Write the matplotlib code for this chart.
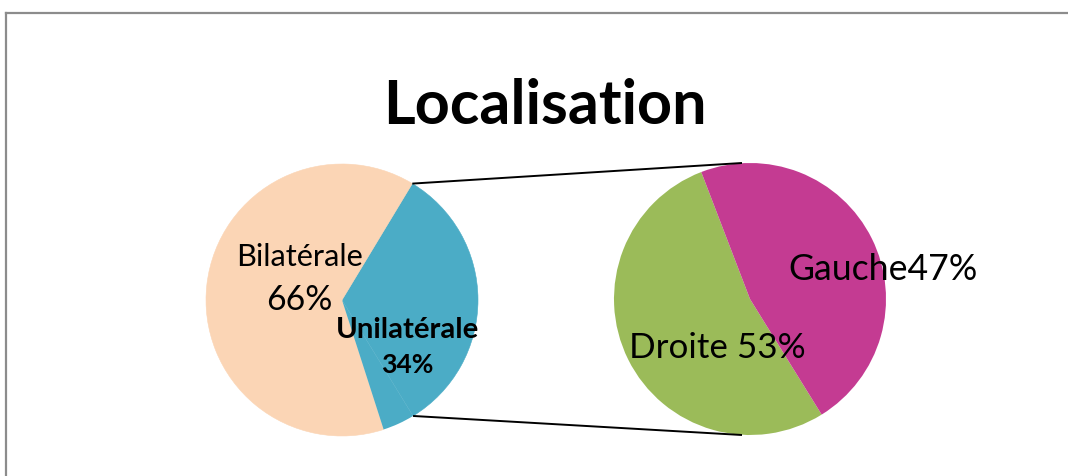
import numpy as np
import matplotlib
matplotlib.use("Agg")
import matplotlib.pyplot as plt
from matplotlib.lines import Line2D

# ---- data ----
title = "Localisation"
left_labels = ["Unilatérale", "Bilatérale", "Unilatérale (reste)"]
left_values = [32.6, 63.6, 3.8]
right_labels = ["Droite", "Gauche"]
right_values = [53, 47]
label_bilat = ["Bilatérale", "66%"]
label_uni = ["Unilatérale", "34%"]
label_gauche = "Gauche47%"
label_droite = "Droite 53%"

W, H = 1068, 477
fig = plt.figure(figsize=(W / 100, H / 100), dpi=100)
ax = fig.add_axes([0, 0, 1, 1])

def Y(py):
    return H - py

c_peach = "#FBD5B5"
c_teal = "#4BACC6"
c_green = "#9BBB59"
c_mag = "#C43B92"

# left pie
lc = (342, Y(301)); r = 136
wl, _ = ax.pie(left_values, colors=[c_teal, c_peach, c_teal], startangle=-58.5,
               counterclock=True, center=lc, radius=r,
               wedgeprops=dict(linewidth=0.4, edgecolor=c_teal))
wl[1].set_edgecolor(c_peach)
wl[2].set_edgecolor("none")
# right pie
rc = (750, Y(300))
wr, _ = ax.pie(right_values, colors=[c_green, c_mag], startangle=-58.2,
               counterclock=False, center=rc, radius=r,
               wedgeprops=dict(linewidth=0))

ax.set_xlim(0, W); ax.set_ylim(0, H)
ax.set_aspect('auto')
ax.axis('off')

# connector lines from "other" wedge edges to right pie top/bottom
w0 = wl[0]
for ang, ry in ((w0.theta2, rc[1] + r), (w0.theta1, rc[1] - r)):
    x0 = lc[0] + r * np.cos(np.radians(ang))
    y0 = lc[1] + r * np.sin(np.radians(ang))
    ax.plot([x0, rc[0] - 8], [y0, ry], color="black", lw=1.4, solid_capstyle='butt')

# frame
ax.add_line(Line2D([5.5, 5.5], [0, Y(14)], color="#8C8C8C", lw=1.6))
ax.add_line(Line2D([5.5, W], [Y(14), Y(14)], color="#8C8C8C", lw=1.6))

FONT = ["Lato", "DejaVu Sans"]
fig.canvas.draw()
renderer = fig.canvas.get_renderer()

def fit_text(s, x_left, x_right, baseline, weight="normal", k=1.07):
    xc = (x_left + x_right) / 2
    t = ax.text(xc, Y(baseline), s, fontsize=20, family=FONT, weight=weight,
                ha="center", va="baseline", color="black")
    bb = t.get_window_extent(renderer)
    t.set_fontsize(k * 20 * (x_right - x_left) / bb.width)
    return t

fit_text(title, 389, 700, 124, weight="bold", k=1.04)
fit_text(label_bilat[0], 240, 359, 266)
fit_text(label_bilat[1], 268, 330, 310)
fit_text(label_uni[0], 340, 474, 338, weight="bold")
fit_text(label_uni[1], 383, 432, 373, weight="bold")
fit_text(label_gauche, 795, 972, 280)
fit_text(label_droite, 635, 800, 358)

fig.savefig("out.png", dpi=100)
